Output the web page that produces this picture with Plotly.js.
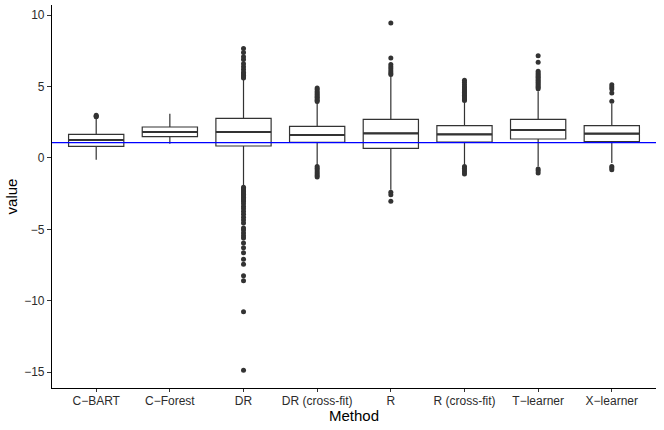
<!DOCTYPE html>
<html>
<head>
<meta charset="utf-8">
<script src="https://cdn.plot.ly/plotly-3.0.1.min.js"></script>
<style>html,body{margin:0;padding:0;background:#fff;}#chart{width:664px;height:430px;}</style>
</head>
<body>
<div id="chart"></div>
<script>
var methods = ["C\u2212BART", "C\u2212Forest", "DR", "DR (cross-fit)", "R", "R (cross-fit)", "T\u2212learner", "X\u2212learner"];
var q1 =         [0.81, 1.49, 0.84, 1.09, 0.67, 1.12, 1.33, 1.14];
var medians =    [1.26, 1.82, 1.82, 1.61, 1.73, 1.66, 1.96, 1.70];
var q3 =         [1.65, 2.17, 2.78, 2.21, 2.71, 2.26, 2.71, 2.26];
var lowerWhisk = [-0.12, 1.00, -2.00, -0.52, -2.22, -0.47, -0.59, -0.35];
var upperWhisk = [2.73, 3.10, 5.50, 3.85, 5.72, 3.97, 4.67, 3.80];
var outliers = [
  [2.88, 2.93, 2.99],
  [],
  [7.68, 7.4, 7.1, 6.9, 6.6, 6.4, 6.2, 6.0, 5.9, 5.8, 5.7, 5.6,
   -2.06, -2.15, -2.25, -2.35, -2.45, -2.55, -2.65, -2.75, -2.85, -2.95, -3.05, -3.2, -3.4, -3.55, -3.75, -3.95, -4.15, -4.35, -4.55, -4.9, -5.05, -5.25, -5.45, -5.6, -5.95, -6.3, -6.65, -7.1, -7.45, -8.25, -8.6, -10.77, -14.88],
  [4.9, 4.8, 4.65, 4.55, 4.45, 4.35, 4.25, 4.15, 4.05, 3.95,
   -0.6, -0.72, -0.85, -0.98, -1.1, -1.22, -1.34],
  [9.46, 7.0, 6.55, 6.4, 6.25, 6.1, 5.95, 5.85, -2.4, -2.57, -3.04],
  [5.45, 5.3, 5.15, 5.0, 4.9, 4.8, 4.7, 4.6, 4.5, 4.4, 4.3, 4.2, 4.1, 4.02,
   -0.59, -0.72, -0.85, -0.98, -1.12],
  [7.17, 6.7, 6.07, 5.95, 5.85, 5.75, 5.65, 5.55, 5.45, 5.35, 5.25, 5.15, 5.05, 4.95, 4.85,
   -0.77, -0.9, -1.05],
  [5.14, 4.98, 4.83, 4.55, 3.97, -0.59, -0.7, -0.82]
];
var referenceLine = 1.07;

var outX = [], outY = [];
for (var i = 0; i < methods.length; i++) {
  for (var j = 0; j < outliers[i].length; j++) {
    outX.push(methods[i]);
    outY.push(outliers[i][j]);
  }
}

var boxColor = "#333333";
var traces = [
  {
    type: "box",
    x: methods,
    q1: q1, median: medians, q3: q3,
    lowerfence: lowerWhisk, upperfence: upperWhisk,
    boxpoints: false,
    width: 0.75,
    fillcolor: "#ffffff",
    line: {color: boxColor, width: 1.2},
    whiskerwidth: 0,
    hoverinfo: "skip",
    showlegend: false
  },
  {
    type: "box",
    x: methods,
    q1: medians, median: medians, q3: medians,
    lowerfence: medians, upperfence: medians,
    boxpoints: false,
    width: 0.75,
    fillcolor: "rgba(0,0,0,0)",
    line: {color: boxColor, width: 2.2},
    whiskerwidth: 0,
    hoverinfo: "skip",
    showlegend: false
  },
  {
    type: "scatter",
    mode: "markers",
    x: outX,
    y: outY,
    marker: {color: boxColor, size: 5},
    hoverinfo: "skip",
    showlegend: false
  }
];

var layout = {
  width: 664,
  height: 430,
  margin: {l: 52, r: 8, t: 5, b: 42},
  paper_bgcolor: "#ffffff",
  plot_bgcolor: "#ffffff",
  font: {family: "Liberation Sans, Arial, sans-serif", size: 12, color: "#000000"},
  showlegend: false,
  boxmode: "overlay",
  xaxis: {
    type: "category",
    categoryorder: "array",
    categoryarray: methods,
    range: [-0.6, 7.6],
    showgrid: false,
    zeroline: false,
    showline: true,
    linecolor: "#000000",
    linewidth: 1.1,
    ticks: "outside",
    ticklen: 3,
    tickwidth: 1,
    tickcolor: "#333333",
    ticklabelstandoff: -2,
    tickfont: {size: 12, color: "#2b2b2b"},
    title: {text: "Method", font: {size: 15, color: "#000000"}, standoff: 0}
  },
  yaxis: {
    range: [-16.12, 10.72],
    tickvals: [-15, -10, -5, 0, 5, 10],
    ticktext: ["\u221215", "\u221210", "\u22125", "0", "5", "10"],
    showgrid: false,
    zeroline: false,
    showline: true,
    linecolor: "#000000",
    linewidth: 1.1,
    ticks: "outside",
    ticklen: 4,
    tickwidth: 1,
    tickcolor: "#333333",
    tickfont: {size: 12, color: "#2b2b2b"},
    title: {text: "value", font: {size: 15, color: "#000000"}, standoff: 2}
  },
  shapes: [
    {type: "line", xref: "paper", x0: 0, x1: 1, yref: "y", y0: referenceLine, y1: referenceLine,
     line: {color: "#0000ff", width: 1.2}, layer: "above"}
  ]
};

Plotly.newPlot("chart", traces, layout, {displayModeBar: false, staticPlot: true});
</script>
</body>
</html>
